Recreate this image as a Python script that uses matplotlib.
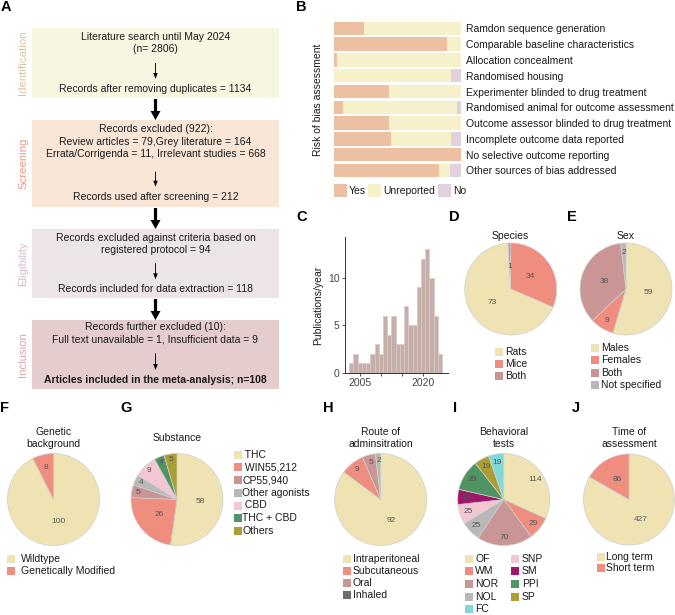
import matplotlib
matplotlib.use("Agg")
import matplotlib.pyplot as plt
from matplotlib.patches import Rectangle
import numpy as np

plt.rcParams['font.family'] = ['Liberation Sans', 'DejaVu Sans']

# ---------------- data ----------------
flow_stages = ["Identification", "Screening", "Eligibility", "Inclusion"]
flow_top_lines = [
    ["Literature search until May 2024", "(n= 2806)"],
    ["Records excluded (922):", "Review articles = 79,Grey literature = 164",
     "Errata/Corrigenda = 11, Irrelevant studies = 668"],
    ["Records excluded against criteria based on", "registered protocol = 94"],
    ["Records further excluded (10):", "Full text unavailable = 1, Insufficient data = 9"],
]
flow_bottom_lines = [
    "Records after removing duplicates = 1134",
    "Records used after screening = 212",
    "Records included for data extraction = 118",
    "Articles included in the meta-analysis; n=108",
]

bias_items = ["Ramdon sequence generation", "Comparable baseline characteristics",
              "Allocation concealment", "Randomised housing",
              "Experimenter blinded to drug treatment",
              "Randomised animal for outcome assessment",
              "Outcome assessor blinded to drug treatment",
              "Incomplete outcome data reported", "No selective outcome reporting",
              "Other sources of bias addressed"]
bias_yes = [24, 89, 2, 0, 43, 7, 43, 45, 100, 83]
bias_unreported = [76, 11, 98, 92, 57, 90, 57, 47, 0, 8]
bias_no = [0, 0, 0, 8, 0, 3, 0, 8, 0, 9]
bias_legend = ["Yes", "Unreported", "No"]

pub_years = list(range(2003, 2025))
pub_counts = [1, 2, 1, 1, 1, 2, 3, 2, 6, 4, 6, 3, 3, 7, 5, 5, 9, 12, 13, 10, 6, 2]

species_labels = ["Rats", "Mice", "Both"]
species_counts = [73, 34, 1]
sex_labels = ["Males", "Females", "Both", "Not specified"]
sex_counts = [59, 9, 38, 2]
genetic_labels = ["Wildtype", "Genetically Modified"]
genetic_counts = [100, 8]
substance_labels = [" THC", " WIN55,212", "CP55,940", "Other agonists", " CBD", "THC + CBD", "Others"]
substance_counts = [58, 26, 5, 4, 9, 4, 5]
route_labels = ["Intraperitoneal", "Subcutaneous", "Oral", "Inhaled"]
route_counts = [92, 9, 5, 2]
test_labels = ["OF", "WM", "NOR", "NOL", "SNP", "SM", "PPI", "SP", "FC"]
test_counts = [114, 29, 70, 25, 25, 19, 39, 19, 19]
time_labels = ["Long term", "Short term"]
time_counts = [427, 86]

# ---------------- colours ----------------
CREAM = '#efe3b4'
SALMON = '#ef8d7f'
ROSE = '#c99695'
GRAY = '#b8b8b8'
PINK = '#f3c6d4'
GREEN = '#4f9462'
OLIVE = '#ab9f33'
MAGENTA = '#a0166b'
CYAN = '#80d9d9'
DGRAY = '#6e6e6e'

W, H = 675, 615
fig = plt.figure(figsize=(W / 100, H / 100), dpi=100)

ax0 = fig.add_axes([0, 0, 1, 1])
ax0.set_xlim(0, W)
ax0.set_ylim(H, 0)
ax0.axis('off')


def add_ax_px(x0, y0, x1, y1):
    return fig.add_axes([x0 / W, 1 - y1 / H, (x1 - x0) / W, (y1 - y0) / H])


FS = 7.5

# ---------------- panel letters ----------------
for letter, (lx, ly) in zip("ABCDEFGHIJ",
                            [(1, 7), (296, 7), (296, 217), (449, 217), (567, 217),
                             (0, 408), (120, 408), (323, 408), (453, 408), (572, 408)]):
    ax0.text(lx, ly, letter, fontsize=10.5, fontweight='bold', ha='left', va='center')

# ---------------- panel A: flowchart ----------------
box_y = [(28, 98), (120, 207), (229, 298), (320, 389)]
box_col = ['#f8f5e0', '#f9e6d7', '#ece4e8', '#e5cdcd']
stage_col = ['#dcc3a0', '#f0968a', '#d5b9cc', '#d6a7aa']
top_y = [[36.7, 49.3], [129.3, 142, 154.3], [237.7, 250], [326.7, 340]]
thin_arrow = [(63, 79), (171.7, 186.7), (263.3, 279.3), (353.3, 370)]
bottom_y = [88.7, 197.3, 289.3, 380]
bx0, bx1 = 32, 279
bxc = (bx0 + bx1) / 2
for i in range(4):
    y0, y1 = box_y[i]
    ax0.add_patch(Rectangle((bx0, y0), bx1 - bx0, y1 - y0, facecolor=box_col[i],
                            edgecolor='none', zorder=0))
    ax0.text(23, (y0 + y1) / 2, flow_stages[i], rotation=90, ha='center', va='center',
             fontsize=8.2, color=stage_col[i])
    for line, yy in zip(flow_top_lines[i], top_y[i]):
        ax0.text(bxc, yy, line, ha='center', va='center', fontsize=FS, color='#1a1a1a')
    ax0.text(bxc, bottom_y[i], flow_bottom_lines[i], ha='center', va='center',
             fontsize=FS, color='#1a1a1a',
             fontweight='bold' if i == 3 else 'normal')
    a0, a1 = thin_arrow[i]
    ax0.arrow(bxc, a0, 0, a1 - a0, width=0.9, head_width=4.5, head_length=6,
              length_includes_head=True, color='black', lw=0)
    if i < 3:
        ax0.arrow(bxc, y1 + 1, 0, box_y[i + 1][0] - y1 - 1, width=3.2, head_width=10,
                  head_length=9, length_includes_head=True, color='black', lw=0)

# ---------------- panel B: risk of bias ----------------
YES_C, UNR_C, NO_C = '#edc0a1', '#f6f0cb', '#e1d1dc'
axB = add_ax_px(334, 20.4, 461, 178.4)
ypos = np.arange(len(bias_items))
yes = np.array(bias_yes, float)
unr = np.array(bias_unreported, float)
no = np.array(bias_no, float)
axB.barh(ypos, yes, height=0.85, color=YES_C, lw=0)
axB.barh(ypos, unr, left=yes, height=0.85, color=UNR_C, lw=0)
axB.barh(ypos, no, left=yes + unr, height=0.85, color=NO_C, lw=0)
axB.set_xlim(0, 100)
axB.set_ylim(len(bias_items) - 0.5, -0.5)
axB.yaxis.tick_right()
axB.set_yticks(ypos)
axB.set_yticklabels(bias_items, fontsize=FS, color='#1a1a1a')
axB.tick_params(axis='y', length=0, pad=3.6)
axB.set_xticks([])
for s in axB.spines.values():
    s.set_visible(False)
ax0.text(318, 100, "Risk of bias assessment", rotation=90, ha='center', va='center',
         fontsize=FS, color='#1a1a1a')
for (sx, lab, c) in zip([334, 368.3, 438.3], bias_legend, [YES_C, UNR_C, NO_C]):
    ax0.add_patch(Rectangle((sx, 183.5), 12.5, 13, facecolor=c, edgecolor='none'))
    ax0.text(sx + 15, 190.5, lab, ha='left', va='center', fontsize=FS, color='#1a1a1a')

# ---------------- panel C: histogram ----------------
axC = add_ax_px(345, 236.7, 448, 372.7)
axC.bar(pub_years, pub_counts, width=1.0, color='#c6aeaa', edgecolor='#d9cac7', lw=0.5)
axC.set_xlim(2001.5, 2025.9)
axC.set_ylim(0, 14.3)
axC.set_yticks([0, 5, 10])
axC.set_xticks([2005, 2010, 2015, 2020])
axC.set_xticklabels(['2005', '', '', '2020'])
axC.tick_params(labelsize=FS, length=2.5, width=0.6, pad=1.5, colors='#333333',
                labelcolor='#444444')
for s in ['top', 'right']:
    axC.spines[s].set_visible(False)
for s in ['left', 'bottom']:
    axC.spines[s].set_linewidth(0.7)
    axC.spines[s].set_color('#333333')
ax0.text(318, 305, "Publications/year", rotation=90, ha='center', va='center',
         fontsize=FS, color='#1a1a1a')


# ---------------- pies ----------------
def draw_pie(cx, cy, r, counts, colors, order, big_r, small_r, title, title_y):
    ax = add_ax_px(cx - r, cy - r, cx + r, cy + r)
    vals = [counts[i] for i in order]
    cols = [colors[i] for i in order]
    ax.pie(vals, colors=cols, startangle=90, counterclock=False, radius=1,
           wedgeprops=dict(edgecolor='#cfcfcf', linewidth=0.5))
    ax.set_xlim(-1, 1)
    ax.set_ylim(-1, 1)
    ax.set_aspect('equal')
    ax.axis('off')
    total = float(sum(vals))
    cum = 0.0
    for v in vals:
        mid = np.deg2rad(90 - 360 * (cum + v / 2) / total)
        lr = big_r if v / total >= 0.1 else small_r
        ax.text(lr * np.cos(mid), lr * np.sin(mid), str(v), ha='center', va='center',
                fontsize=6, color='#555555')
        cum += v
    ax0.text(cx, title_y, title, ha='center', va='center', fontsize=FS,
             color='#1a1a1a', linespacing=1.15)


def legend_px(x, y, labels, colors, dy, tx, sq=8):
    for i, (lab, c) in enumerate(zip(labels, colors)):
        ax0.add_patch(Rectangle((x, y + i * dy - sq / 2), sq, sq, facecolor=c,
                                edgecolor='none'))
        ax0.text(tx, y + i * dy, lab, ha='left', va='center', fontsize=FS,
                 color='#1a1a1a')


# D species
sp_cols = [CREAM, SALMON, ROSE]
draw_pie(510.7, 289, 46, species_counts, sp_cols, [1, 0, 2], 0.5, 0.5, "Species", 236)
legend_px(495, 351.7, species_labels, sp_cols, 12.2, 505)

# E sex
sx_cols = [CREAM, SALMON, ROSE, GRAY]
draw_pie(626, 289, 46, sex_counts, sx_cols, [0, 1, 2, 3], 0.5, 0.8, "Sex", 236)
legend_px(591, 348.3, sex_labels, sx_cols, 12.1, 601)

# F genetic
gn_cols = [CREAM, SALMON]
draw_pie(53.5, 499.5, 46, genetic_counts, gn_cols, [0, 1], 0.5, 0.72,
         "Genetic\nbackground", 438)
legend_px(7, 558.7, genetic_labels, gn_cols, 12.3, 21)

# G substance
sb_cols = [CREAM, SALMON, ROSE, GRAY, PINK, GREEN, OLIVE]
draw_pie(177, 499.5, 46, substance_counts, sb_cols, list(range(7)), 0.5, 0.87,
         "Substance", 438)
legend_px(233.5, 454.7, substance_labels, sb_cols, 12.7, 242.5)

# H route
rt_cols = [CREAM, SALMON, ROSE, GRAY]
draw_pie(380.7, 499.5, 46, route_counts, rt_cols, [0, 1, 2, 3], 0.5, 0.84,
         "Route of\nadminsitration", 438)
legend_px(342.7, 559, route_labels, [CREAM, SALMON, ROSE, DGRAY], 12.1, 352.7)

# I behavioral tests
ts_cols = [CREAM, SALMON, ROSE, GRAY, PINK, MAGENTA, GREEN, OLIVE, CYAN]
draw_pie(503.7, 499.5, 46, test_counts, ts_cols, list(range(9)), 0.82, 0.82,
         "Behavioral\ntests", 438)
col1 = [0, 1, 2, 3, 8]
col2 = [4, 5, 6, 7]
legend_px(465, 558.7, [test_labels[i] for i in col1], [ts_cols[i] for i in col1], 12.65, 475)
legend_px(511, 558.7, [test_labels[i] for i in col2], [ts_cols[i] for i in col2], 12.65, 521.7)

# J time
tm_cols = [CREAM, SALMON]
draw_pie(629, 499.5, 45.5, time_counts, tm_cols, [0, 1], 0.5, 0.5,
         "Time of\nassessment", 438)
legend_px(596.7, 556.7, time_labels, tm_cols, 11.6, 605.7)

fig.savefig("out.png", dpi=100)
